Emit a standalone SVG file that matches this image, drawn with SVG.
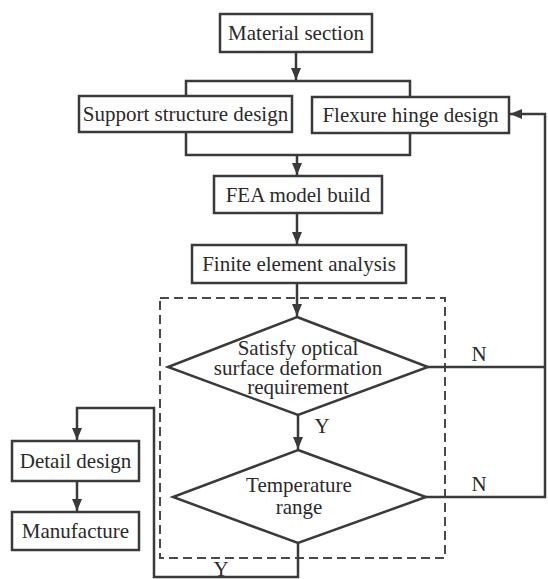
<svg xmlns="http://www.w3.org/2000/svg" width="548" height="579" viewBox="0 0 548 579" font-family="'Liberation Serif', 'Times New Roman', serif">
<defs>
<style>
.box{fill:#fff;stroke:#3a3a3a;stroke-width:2.5}
.ln{fill:none;stroke:#3a3a3a;stroke-width:2.5}
.dash{fill:none;stroke:#4a4a4a;stroke-width:2;stroke-dasharray:9 5}
text{font-family:'Liberation Serif','Times New Roman',serif;font-size:21px;fill:#2a2a2a;text-anchor:middle}
</style>
<marker id="ah" viewBox="0 0 12 10" refX="12" refY="5" markerWidth="12" markerHeight="10" markerUnits="userSpaceOnUse" orient="auto">
<path d="M0,0 L12,5 L0,10 z" fill="#3a3a3a"/>
</marker>
</defs>
<rect x="0" y="0" width="548" height="579" fill="#fff"/>
<rect class="dash" x="160" y="298" width="285" height="260"/>
<g id="connectors">
<line class="ln" x1="296" y1="52" x2="296" y2="80" marker-end="url(#ah)"/>
<polyline class="ln" points="186,96 186,81 410,81 410,97"/>
<polyline class="ln" points="186,132 186,155 410,155 410,133"/>
<line class="ln" x1="297" y1="155" x2="297" y2="175" marker-end="url(#ah)"/>
<line class="ln" x1="297" y1="213" x2="297" y2="244" marker-end="url(#ah)"/>
<line class="ln" x1="297" y1="283" x2="297" y2="316" marker-end="url(#ah)"/>
<line class="ln" x1="428" y1="367" x2="545" y2="367"/>
<polyline class="ln" points="426,497 545,497 545,114 510,114" marker-end="url(#ah)"/>
<line class="ln" x1="298" y1="415" x2="298" y2="449" marker-end="url(#ah)"/>
<polyline class="ln" points="298,543 298,577 154,577 154,408 77,408 77,440" marker-end="url(#ah)"/>
<line class="ln" x1="77" y1="481" x2="77" y2="511" marker-end="url(#ah)"/>
<text x="479" y="361">N</text>
<text x="479" y="491">N</text>
<text x="322" y="433">Y</text>
<text x="221" y="576">Y</text>
</g>
<g id="material"><rect class="box" x="220" y="14" width="152" height="38"/><text x="296" y="40">Material section</text></g>
<g id="support"><rect class="box" x="79" y="96" width="213" height="36"/><text x="185.5" y="121">Support structure design</text></g>
<g id="flexure"><rect class="box" x="312" y="97" width="197" height="36"/><text x="410.5" y="122">Flexure hinge design</text></g>
<g id="fea"><rect class="box" x="214" y="176" width="168" height="37"/><text x="298" y="202">FEA model build</text></g>
<g id="analysis"><rect class="box" x="192" y="245" width="214" height="38"/><text x="299" y="271">Finite element analysis</text></g>
<g id="satisfy"><polygon class="box" points="297,317 428,367 298,415 168,367"/><text x="298" y="355">Satisfy optical</text><text x="298" y="375">surface deformation</text><text x="298" y="394">requirement</text></g>
<g id="temperature"><polygon class="box" points="298,450 426,497 298,543 173,497"/><text x="299" y="492">Temperature</text><text x="299" y="514">range</text></g>
<g id="detail"><rect class="box" x="12" y="441" width="127" height="40"/><text x="75.5" y="468">Detail design</text></g>
<g id="manufacture"><rect class="box" x="12" y="512" width="127" height="38"/><text x="75.5" y="538">Manufacture</text></g>
</svg>
